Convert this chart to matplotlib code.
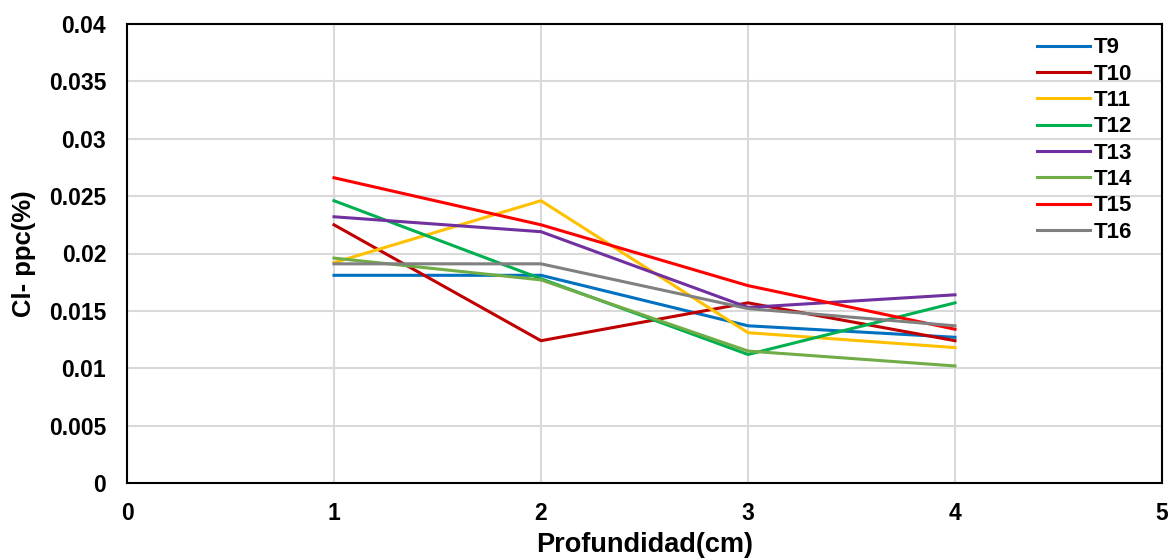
import matplotlib.pyplot as plt

plt.rcParams['font.family'] = ['Liberation Sans', 'DejaVu Sans']
plt.rcParams['font.weight'] = 'bold'

# Datos
profundidad = [1, 2, 3, 4]
t9 = [0.0181, 0.0181, 0.0137, 0.0127]
t10 = [0.0225, 0.0124, 0.0157, 0.0124]
t11 = [0.0192, 0.0246, 0.0131, 0.0118]
t12 = [0.0246, 0.0178, 0.0112, 0.0157]
t13 = [0.0232, 0.0219, 0.0153, 0.0164]
t14 = [0.0196, 0.0177, 0.0115, 0.0102]
t15 = [0.0266, 0.0225, 0.0172, 0.0134]
t16 = [0.0191, 0.0191, 0.0152, 0.0137]

series = ['T9', 'T10', 'T11', 'T12', 'T13', 'T14', 'T15', 'T16']
valores = [t9, t10, t11, t12, t13, t14, t15, t16]
colores = ['#0070C0', '#C00000', '#FFC000', '#00B050',
           '#7030A0', '#70AD47', '#FF0000', '#808080']

fig = plt.figure(figsize=(11.72, 5.59), dpi=100)
ax = fig.add_axes([127/1172, 1 - 483/559, (1162 - 127)/1172, (483 - 24)/559])

for nombre, v, c in zip(series, valores, colores):
    ax.plot(profundidad, v, color=c, lw=2.2, label=nombre)

ax.set_xlim(0, 5)
ax.set_ylim(0, 0.04)
ax.set_xticks(range(0, 6))
ax.set_yticks([0, 0.005, 0.01, 0.015, 0.02, 0.025, 0.03, 0.035, 0.04])
ax.set_yticklabels(['0', '0.005', '0.01', '0.015', '0.02', '0.025', '0.03', '0.035', '0.04'])
ax.grid(True, color='#D9D9D9', lw=1.5)
ax.set_axisbelow(True)
ax.tick_params(length=0, labelsize=16.5)
ax.tick_params(axis='y', pad=15)
ax.tick_params(axis='x', pad=14)
for s in ax.spines.values():
    s.set_color('black')
    s.set_linewidth(1.5)

ax.set_xlabel('Profundidad(cm)', fontsize=19.5, fontweight='bold', labelpad=5)
ax.set_ylabel('Cl- ppc(%)', fontsize=18.5, fontweight='bold', labelpad=9)

ax.legend(loc='upper left', bbox_to_anchor=((1026 - 127) / 1035, 0.995), frameon=False,
          fontsize=16, handlelength=2.4, labelspacing=0.24, handletextpad=0.15,
          borderaxespad=0.1)

fig.savefig('out.png', dpi=100)
